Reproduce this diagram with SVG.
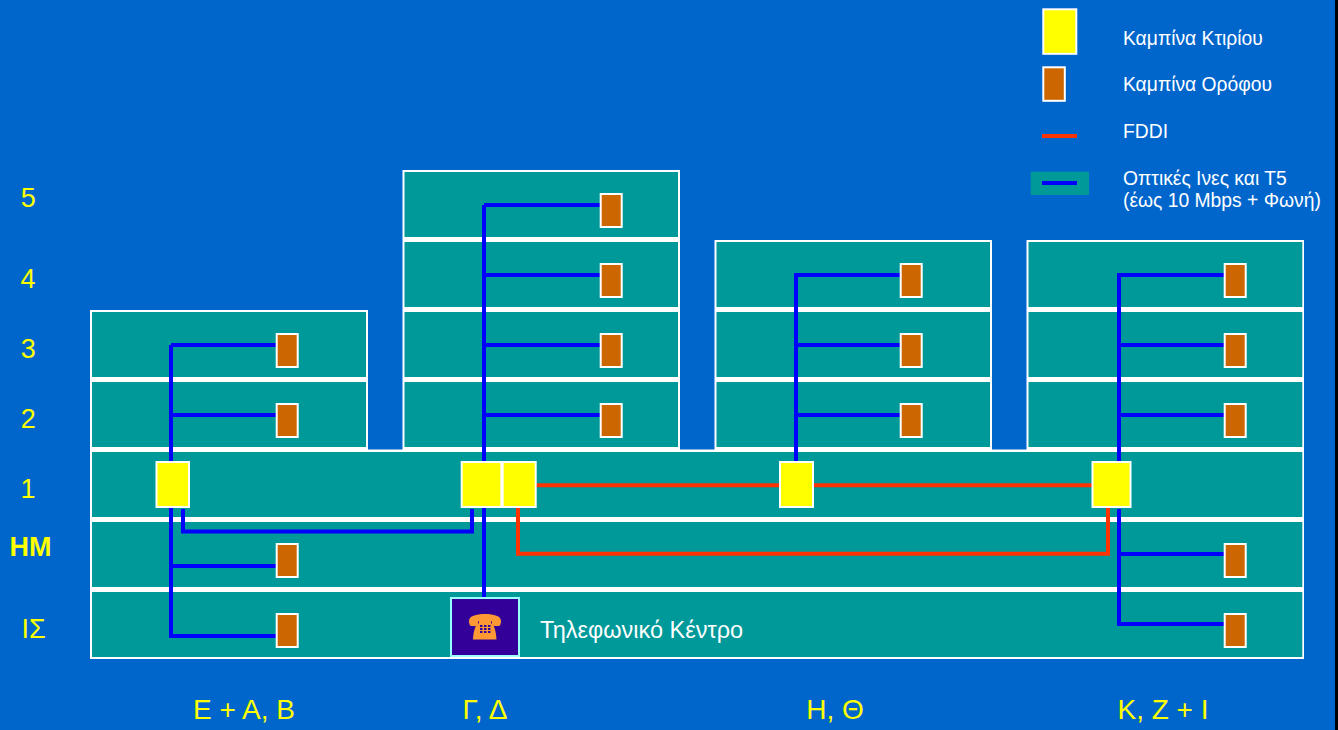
<svg xmlns="http://www.w3.org/2000/svg" width="1338" height="730" viewBox="0 0 1338 730">
<style>
.wall{fill:#fff}
.floor{fill:#009999}
.bsw{fill:#ff0;stroke:#fff;stroke-width:2}
.fsw{fill:#cc6600;stroke:#fff;stroke-width:2}
.blue{fill:none;stroke:#0000ff;stroke-width:4}
.red{fill:none;stroke:#ff3300;stroke-width:4}
text{font-family:"Liberation Sans",Arial,sans-serif}
.lg{font-size:19.300px;fill:#fff}
.y{font-size:27px;fill:#ff0;text-anchor:middle}
.b{font-size:28px}
</style>
<defs>
<rect id="o" width="21" height="33" class="fsw"/>
</defs>
<rect width="1338" height="730" fill="#0066cc"/>
<rect x="1335" y="0" width="3" height="730" fill="#000"/>
<g id="building-walls">
<rect class="wall" x="90" y="310" width="278" height="142"/>
<rect class="wall" x="402.500" y="170" width="277.500" height="282"/>
<rect class="wall" x="714.500" y="240" width="277.500" height="212"/>
<rect class="wall" x="1026.500" y="240" width="277.500" height="212"/>
<rect class="wall" x="90" y="449.500" width="1214" height="209.500"/>
</g>
<g id="floors">
<rect class="floor" x="404.500" y="172" width="273.500" height="65"/>
<rect class="floor" x="404.500" y="242" width="273.500" height="65"/>
<rect class="floor" x="404.500" y="312" width="273.500" height="65"/>
<rect class="floor" x="404.500" y="382" width="273.500" height="65"/>
<rect class="floor" x="716.500" y="242" width="273.500" height="65"/>
<rect class="floor" x="716.500" y="312" width="273.500" height="65"/>
<rect class="floor" x="716.500" y="382" width="273.500" height="65"/>
<rect class="floor" x="1028.500" y="242" width="273.800" height="65"/>
<rect class="floor" x="1028.500" y="312" width="273.800" height="65"/>
<rect class="floor" x="1028.500" y="382" width="273.800" height="65"/>
<rect class="floor" x="92" y="312" width="274" height="65"/>
<rect class="floor" x="92" y="382" width="274" height="65"/>
<rect class="floor" x="92" y="452" width="1210.300" height="65"/>
<rect class="floor" x="92" y="522" width="1210.300" height="65"/>
<rect class="floor" x="92" y="592" width="1210.300" height="65"/>
</g>
<g id="connectors">
<path class="blue" d="M171 345V636H276M171 345H276M171 415H276M171 566H276"/>
<path class="blue" d="M183 509V531.500H472V509"/>
<path class="blue" d="M484 205V597M484 205H600M484 275H600M484 345H600M484 415H600"/>
<path class="blue" d="M796 462V275H900M796 345H900M796 415H900"/>
<path class="blue" d="M1119 509V624H1224M1119 554H1224"/>
<path class="blue" d="M1119 462V275H1224M1119 345H1224M1119 415H1224"/>
<path class="red" d="M536 485.300H1092"/>
<path class="red" d="M518 508V553.700H1108V508"/>
</g>
<g id="building-switches">
<rect id="bs-e" class="bsw" x="156.500" y="462" width="32.500" height="45"/>
<rect id="bs-g1" class="bsw" x="461.700" y="462" width="39.600" height="45"/>
<rect id="bs-g2" class="bsw" x="502.700" y="462" width="33" height="45"/>
<rect id="bs-h" class="bsw" x="780" y="462" width="33" height="45"/>
<rect id="bs-k" class="bsw" x="1092.500" y="462" width="38" height="45"/>
</g>
<g id="floor-switches">
<use href="#o" x="276.700" y="334"/><use href="#o" x="276.700" y="404"/><use href="#o" x="276.700" y="544"/><use href="#o" x="276.700" y="614"/>
<use href="#o" x="600.700" y="194"/><use href="#o" x="600.700" y="264"/><use href="#o" x="600.700" y="334"/><use href="#o" x="600.700" y="404"/>
<use href="#o" x="900.700" y="264"/><use href="#o" x="900.700" y="334"/><use href="#o" x="900.700" y="404"/>
<use href="#o" x="1224.700" y="264"/><use href="#o" x="1224.700" y="334"/><use href="#o" x="1224.700" y="404"/><use href="#o" x="1224.700" y="544"/><use href="#o" x="1224.700" y="614"/>
</g>
<g id="pbx">
<rect x="451" y="598" width="68" height="58" fill="#330099" stroke="#99ffff" stroke-width="2"/>
<path fill="#ff9933" d="M469 621c0-5 7-7 16-7s16 2 16 7c0 3-1 5-2.500 5h-4c-1.500 0-2.500-1-2.500-2.500v-2c-2-1-4-1.300-7-1.300s-5 .3-7 1.300v2c0 1.500-1 2.500-2.500 2.500h-4c-1.500 0-2.500-2-2.500-5z"/>
<path fill="#ff9933" d="M479 619.500h12v3.500c3 2 5 7 5.500 16.500h-23.500c.5-9.500 2.500-14.500 6-16.500z"/>
<g fill="#330099"><rect x="480" y="625" width="2.500" height="2"/><rect x="484" y="625" width="2.500" height="2"/><rect x="488" y="625" width="2.500" height="2"/><rect x="480" y="628" width="2.500" height="2"/><rect x="484" y="628" width="2.500" height="2"/><rect x="488" y="628" width="2.500" height="2"/><rect x="480" y="631" width="2.500" height="2"/><rect x="484" y="631" width="2.500" height="2"/><rect x="488" y="631" width="2.500" height="2"/></g>
</g>
<text x="540" y="638.300" font-size="23.500" fill="#fff">Τηλεφωνικό Κέντρο</text>
<g id="floor-labels">
<text class="y" x="28.300" y="207.300">5</text>
<text class="y" x="28" y="288">4</text>
<text class="y" x="28.300" y="358">3</text>
<text class="y" x="28.300" y="428">2</text>
<text class="y" x="28" y="498">1</text>
<text class="y" x="30.500" y="555.700" font-weight="bold">ΗΜ</text>
<text class="y" x="33.500" y="637.700">ΙΣ</text>
</g>
<g id="building-labels">
<text class="y b" x="244" y="719.300">Ε + Α, Β</text>
<text class="y b" x="485" y="719.300">Γ, Δ</text>
<text class="y b" x="835" y="719.300">Η, Θ</text>
<text class="y b" x="1163" y="719.300">Κ, Ζ + Ι</text>
</g>
<g id="legend">
<rect class="bsw" x="1043.300" y="9.300" width="33" height="44.500"/>
<rect class="fsw" x="1043.300" y="67.300" width="21.500" height="33.500"/>
<path class="red" d="M1042 136H1077"/>
<rect x="1030.700" y="171.700" width="58.300" height="23.300" fill="#009999"/>
<path class="blue" d="M1042 183H1077"/>
<text class="lg" x="1123" y="44.500">Καμπίνα Κτιρίου</text>
<text class="lg" x="1123" y="91">Καμπίνα Ορόφου</text>
<text class="lg" x="1123" y="138">FDDI</text>
<text class="lg" x="1123" y="185">Οπτικές Ινες και Τ5</text>
<text class="lg" x="1123" y="207">(έως 10 Mbps + Φωνή)</text>
</g>
</svg>
